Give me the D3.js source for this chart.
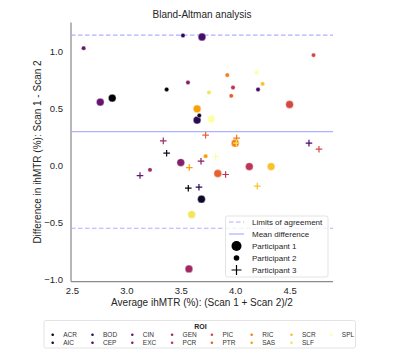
<!DOCTYPE html>
<html>
<head>
  <meta charset="utf-8" />
  <script src="https://cdnjs.cloudflare.com/ajax/libs/d3/7.8.5/d3.min.js"></script>
  <style>
    body { margin: 0; background: #fff; }
    svg { font-family: "Liberation Sans", Arial, sans-serif; }
    .tick text { fill: #262626; font-size: 9.5px; font-family: "Liberation Sans", Arial, sans-serif; }
    .tick line { display: none; }
    path.domain { stroke: #8c8c8c; stroke-width: 1.25; }
  </style>
</head>
<body>
  <svg id="chart" width="400" height="354"></svg>
  <script>
  // ROIs and per-participant values: average ihMTR (x) and scan difference (y)
  var rois = ["ACR","AIC","BOD","CEP","CIN","EXC","GEN","PCR","PIC","PTR","RIC","SAS","SCR","SLF","SPL"];
  var p1Avg  = [2.87, 3.69, 3.65, 3.695, 2.76, 3.50, 3.575, 4.13, 4.50, 3.84, 4.00, 3.65, 4.33, 3.60, 3.78];
  var p1Diff = [0.594, -0.292, 0.401, 1.13, 0.559, 0.029, -0.904, -0.006, 0.538, -0.067, 0.199, 0.50, -0.006, -0.427, 0.41];
  var p2Avg  = [3.37, 3.67, 3.52, 4.21, 2.607, 3.566, 3.217, 3.98, 4.72, 3.964, 3.927, 3.728, 4.252, 3.759, 4.197];
  var p2Diff = [0.67, 0.441, 1.143, 0.67, 1.032, 0.731, -0.035, 0.687, 0.971, 0.614, 0.796, 0.085, 0.719, 0.643, 0.818];
  var p3Avg  = [3.569, 3.37, 3.667, 4.678, 3.125, 3.686, 3.339, 3.912, 4.77, 3.728, 4.013, 3.578, 4.203, 4.01, 3.82];
  var p3Diff = [-0.196, 0.111, -0.187, 0.199, -0.085, 0.041, 0.219, -0.076, 0.146, 0.269, 0.243, -0.015, -0.178, 0.199, 0.082];
  var participants = ["Participant 1", "Participant 2", "Participant 3"];
  var meanDiff = 0.30;
  var limits = [1.146, -0.547];
  var xTicks = [2.5, 3.0, 3.5, 4.0, 4.5];
  var yTicks = [-1.0, -0.5, 0.0, 0.5, 1.0];

  var svg = d3.select("#chart");
  var lineColor = "#b0b0ff";

  var x = d3.scaleLinear().domain([2.491, 4.899]).range([71, 333]);
  var y = d3.scaleLinear().domain([-1.014, 1.257]).range([281.5, 22.5]);
  var color = d3.scaleOrdinal().domain(rois)
      .range(rois.map((d, i) => d3.interpolateInferno(i / (rois.length - 1))));

  var fmt = d => d3.format(".1f")(d).replace("-", "\u2212");

  // axes (left & bottom only)
  svg.append("g").attr("transform", "translate(0," + 281.5 + ")")
      .call(d3.axisBottom(x).tickValues(xTicks).tickFormat(fmt).tickSize(0).tickPadding(6))
      .call(g => g.select(".domain").attr("d", "M71,0H333"));
  svg.append("g").attr("transform", "translate(71,0)")
      .call(d3.axisLeft(y).tickValues(yTicks).tickFormat(fmt).tickSize(0).tickPadding(8))
      .call(g => g.select(".domain").attr("d", "M0,22.5V281.5"));

  // reference lines
  limits.forEach(v => {
    svg.append("line").attr("x1", 71).attr("x2", 333)
        .attr("y1", y(v)).attr("y2", y(v))
        .attr("stroke", lineColor).attr("stroke-width", 1.2)
        .attr("stroke-dasharray", "4.5,2.5");
  });
  svg.append("line").attr("x1", 71).attr("x2", 333)
      .attr("y1", y(meanDiff)).attr("y2", y(meanDiff))
      .attr("stroke", lineColor).attr("stroke-width", 1.2);

  // points
  var rows = [];
  [[p1Avg, p1Diff], [p2Avg, p2Diff], [p3Avg, p3Diff]].forEach((s, p) => {
    rois.forEach((r, i) => rows.push({ roi: r, p: p, avg: s[0][i], diff: s[1][i] }));
  });

  function plus(sel, arm) {
    sel.append("path").attr("d", "M" + (-arm) + ",0H" + arm + "M0," + (-arm) + "V" + arm);
  }

  rows.forEach(d => {
    var g = svg.append("g").attr("transform", "translate(" + x(d.avg) + "," + y(d.diff) + ")");
    if (d.p === 2) {
      g.call(plus, 3.3);
      g.select("path").attr("stroke", color(d.roi)).attr("stroke-width", 1.2).attr("fill", "none");
    } else {
      g.append("circle").attr("r", d.p === 0 ? 3.9 : 2.2)
          .attr("fill", color(d.roi)).attr("stroke", "#fff").attr("stroke-width", 0.4);
    }
  });

  // title and axis labels
  svg.append("text").attr("x", 202).attr("y", 18).attr("text-anchor", "middle")
      .attr("font-size", 10).attr("fill", "#262626").text("Bland-Altman analysis");
  svg.append("text").attr("x", 202).attr("y", 306).attr("text-anchor", "middle")
      .attr("font-size", 10).attr("fill", "#262626").text("Average ihMTR (%): (Scan 1 + Scan 2)/2");
  svg.append("text").attr("transform", "translate(41,152) rotate(-90)").attr("text-anchor", "middle")
      .attr("font-size", 10).attr("fill", "#262626").text("Difference in ihMTR (%): Scan 1 - Scan 2");

  // inner legend
  var lg = svg.append("g");
  lg.append("rect").attr("x", 225.5).attr("y", 216).attr("width", 102.5).attr("height", 61)
      .attr("rx", 2).attr("fill", "#fff").attr("fill-opacity", 0.8).attr("stroke", "#dcdcdc").attr("stroke-width", 0.8);
  var lgLabels = ["Limits of agreement", "Mean difference"].concat(participants);
  lgLabels.forEach((t, i) => {
    var ly = 222 + i * 12;
    lg.append("text").attr("x", 252).attr("y", ly + 3).attr("font-size", 8).attr("fill", "#262626").text(t);
    if (i < 2) {
      lg.append("line").attr("x1", 229).attr("x2", 244).attr("y1", ly).attr("y2", ly)
          .attr("stroke", lineColor).attr("stroke-width", 1.2)
          .attr("stroke-dasharray", i === 0 ? "4.5,2.5" : null);
    } else if (i < 4) {
      lg.append("circle").attr("cx", 236.5).attr("cy", ly).attr("r", i === 2 ? 5 : 2.8).attr("fill", "#000");
    } else {
      var pg = lg.append("g").attr("transform", "translate(236.5," + ly + ")");
      pg.call(plus, 5);
      pg.select("path").attr("stroke", "#000").attr("stroke-width", 1.2);
    }
  });

  // ROI legend below
  var rg = svg.append("g");
  rg.append("rect").attr("x", 44).attr("y", 320.5).attr("width", 311.5).attr("height", 27.5)
      .attr("rx", 2).attr("fill", "#fff").attr("stroke", "#dcdcdc").attr("stroke-width", 0.8);
  rg.append("text").attr("x", 200.5).attr("y", 328.5).attr("text-anchor", "middle")
      .attr("font-size", 7).attr("font-weight", "bold").attr("fill", "#262626").text("ROI");
  rois.forEach((r, i) => {
    var col = Math.floor(i / 2), row = i % 2;
    var cx = 52.7 + col * 39.8, cy = 334.7 + row * 8;
    rg.append("circle").attr("cx", cx).attr("cy", cy).attr("r", 1.3).attr("fill", color(r));
    rg.append("text").attr("x", cx + 10.5).attr("y", cy + 2.3).attr("font-size", 6.5)
        .attr("fill", "#333").text(r);
  });
  </script>
</body>
</html>
